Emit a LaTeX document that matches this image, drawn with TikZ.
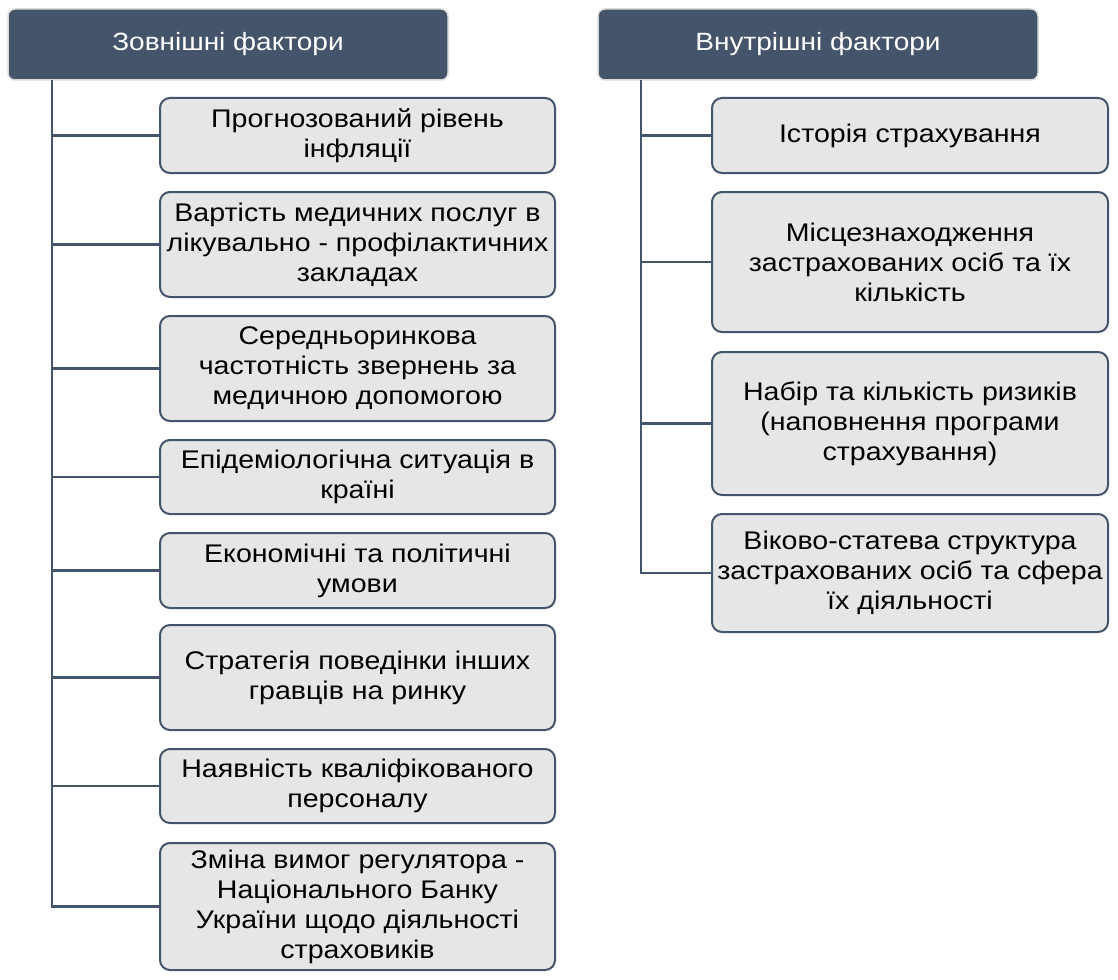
\documentclass[tikz,border=0pt]{standalone}
\usepackage{fontspec}
\setmainfont[FakeStretch=1.12]{Liberation Sans}
\definecolor{slate}{HTML}{44546A}
\definecolor{boxfill}{HTML}{E7E6E6}
\definecolor{hdredge}{HTML}{DADADA}
\begin{document}
\begin{tikzpicture}[x=1pt,y=-1pt,
  hdr/.style={draw=hdredge, line width=1.5pt, fill=slate, rounded corners=7pt, text=white,
    font=\fontsize{25}{29}\selectfont, inner sep=0pt, minimum height=71pt, minimum width=440pt},
  child/.style={draw=slate, line width=2pt, fill=boxfill, rounded corners=10pt, text=black,
    font=\fontsize{25.5}{30}\selectfont, align=center, inner sep=0pt},
  conn/.style={draw=slate, line width=2.6pt}]
\useasboundingbox (0,0) rectangle (1118,979);
\fill[white] (0,0) rectangle (1118,979);
% headers
\node[hdr] (lh) at (228,44.5) {Зовнішні фактори};
\node[hdr] (rh) at (818,44.5) {Внутрішні фактори};
% left children
\node[child, minimum width=395pt, minimum height=75pt] (l1) at (357.5,135.5) {Прогнозований рівень\\інфляції};
\node[child, minimum width=395pt, minimum height=105pt] (l2) at (357.5,244.5) {Вартість медичних послуг в\\лікувально - профілактичних\\закладах};
\node[child, minimum width=395pt, minimum height=105pt] (l3) at (357.5,368.5) {Середньоринкова\\частотність звернень за\\медичною допомогою};
\node[child, minimum width=395pt, minimum height=74pt] (l4) at (357.5,477) {Епідеміологічна ситуація в\\країні};
\node[child, minimum width=395pt, minimum height=75pt] (l5) at (357.5,570.5) {Економічні та політичні\\умови};
\node[child, minimum width=395pt, minimum height=105pt] (l6) at (357.5,677.5) {Стратегія поведінки інших\\гравців на ринку};
\node[child, minimum width=395pt, minimum height=74pt] (l7) at (357.5,786) {Наявність кваліфікованого\\персоналу};
\node[child, minimum width=395pt, minimum height=127pt] (l8) at (357.5,906.5) {Зміна вимог регулятора -\\Національного Банку\\України щодо діяльності\\страховиків};
% right children
\node[child, minimum width=396pt, minimum height=75pt] (r1) at (910,135.5) {Історія страхування};
\node[child, minimum width=396pt, minimum height=140pt] (r2) at (910,262) {Місцезнаходження\\застрахованих осіб та їх\\кількість};
\node[child, minimum width=396pt, minimum height=143pt] (r3) at (910,423.5) {Набір та кількість ризиків\\(наповнення програми\\страхування)};
\node[child, minimum width=396pt, minimum height=118pt] (r4) at (910,573) {Віково-статева структура\\застрахованих осіб та сфера\\їх діяльності};
% connectors
\coordinate (lt) at (52,80);
\coordinate (rt) at (641,80);
\draw[conn] (lt) |- (l8.west);
\foreach \n in {l1,l2,l3,l4,l5,l6,l7} \draw[conn] (lt |- \n.west) -- (\n.west);
\draw[conn] (rt) |- (r4.west);
\foreach \n in {r1,r2,r3} \draw[conn] (rt |- \n.west) -- (\n.west);
\end{tikzpicture}
\end{document}
